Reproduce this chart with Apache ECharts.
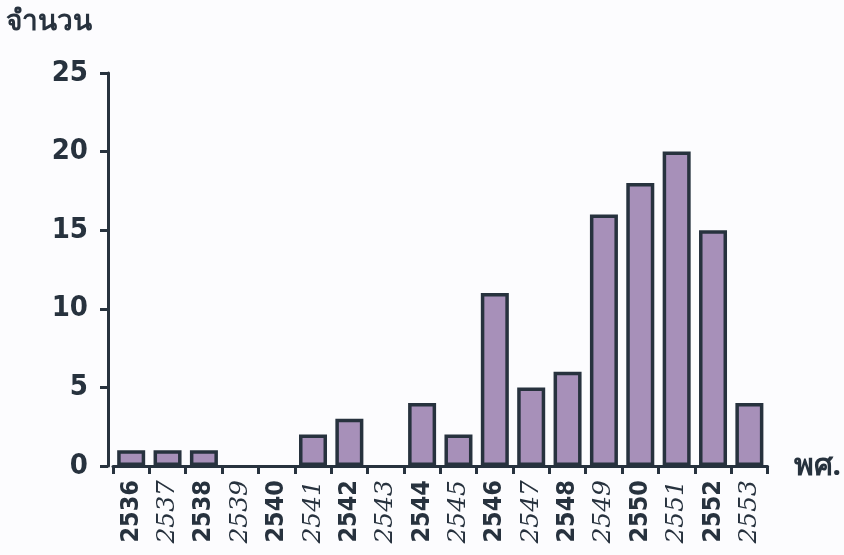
<!DOCTYPE html>
<html>
<head>
<meta charset="utf-8">
<script src="https://cdn.jsdelivr.net/npm/echarts@6/dist/echarts.min.js"></script>
<style>
  html, body { margin: 0; padding: 0; background: #fcfcfe; }
  #chart { width: 844px; height: 555px; }
</style>
</head>
<body>
<div id="chart"></div>
<script>
// Years (Buddhist Era) and counts per year
const years = ['2536','2537','2538','2539','2540','2541','2542','2543','2544','2545','2546','2547','2548','2549','2550','2551','2552','2553'];
const counts = [1, 1, 1, 0, 0, 2, 3, 0, 4, 2, 11, 5, 6, 16, 18, 20, 15, 4];
const yTicks = [0, 5, 10, 15, 20, 25];

const ink = '#27323e';
const chart = echarts.init(document.getElementById('chart'), null, { renderer: 'canvas' });

chart.setOption({
  backgroundColor: '#fcfcfe',
  animation: false,
  grid: { left: 113, right: 74, top: 73, bottom: 89 },
  graphic: [
    {
      type: 'text', left: 6, top: 8,
      style: { text: 'จำนวน', fontSize: 28, fontWeight: 'bold', fill: ink,
               fontFamily: '"Noto Sans", "DejaVu Sans", sans-serif' }
    }
  ],
  xAxis: {
    type: 'category',
    data: years,
    name: 'พศ.',
    nameLocation: 'end',
    nameGap: 26,
    nameTextStyle: { fontSize: 30, fontWeight: 'bold', color: ink,
                     fontFamily: '"Noto Sans", "DejaVu Sans", sans-serif', verticalAlign: 'middle' },
    axisLine: { lineStyle: { color: ink, width: 3 } },
    axisTick: { show: true, length: 8, lineStyle: { color: ink, width: 3 } },
    axisLabel: {
      rotate: 90,
      margin: 14,
      interval: 0,
      formatter: (v, i) => (i % 2 === 0 ? '{b|' + v + '}' : '{h|' + v + '}'),
      rich: {
        b: { fontSize: 25, fontWeight: 'bold', color: ink,
             fontFamily: '"DejaVu Sans Condensed", "DejaVu Sans", sans-serif' },
        h: { fontSize: 25, fontStyle: 'italic', fontWeight: 'normal', color: ink,
             fontFamily: '"DejaVu Serif", serif' }
      }
    }
  },
  yAxis: {
    type: 'value',
    min: 0, max: 25, interval: 5,
    offset: 5,
    splitLine: { show: false },
    axisLine: { show: true, lineStyle: { color: ink, width: 3 } },
    axisTick: { show: true, length: 8, lineStyle: { color: ink, width: 3 } },
    axisLabel: {
      margin: 20,
      fontSize: 29,
      fontWeight: 'bold',
      color: ink,
      fontFamily: '"Liberation Sans Narrow", "DejaVu Sans Condensed", sans-serif',
      formatter: v => (yTicks.includes(v) ? String(v) : '')
    }
  },
  series: [{
    type: 'bar',
    barWidth: 28,
    // empty years get no outline so nothing is drawn on the baseline
    data: counts.map(v => (v === 0
      ? { value: v, itemStyle: { borderWidth: 0, opacity: 0 } }
      : v)),
    itemStyle: { color: '#a790b9', borderColor: ink, borderWidth: 3.5 }
  }]
});
</script>
</body>
</html>
